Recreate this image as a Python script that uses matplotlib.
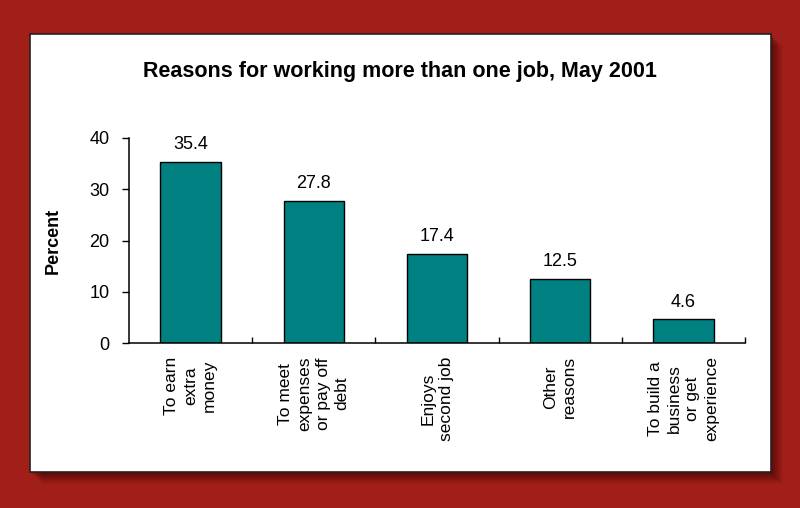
import matplotlib.pyplot as plt
from matplotlib.patches import Rectangle
from matplotlib.transforms import blended_transform_factory

# data
categories = ['To earn\nextra\nmoney',
              'To meet\nexpenses\nor pay off\ndebt',
              'Enjoys\nsecond job',
              'Other\nreasons',
              'To build a\nbusiness\nor get\nexperience']
values = [35.4, 27.8, 17.4, 12.5, 4.6]
yticks = [0, 10, 20, 30, 40]

plt.rcParams['font.family'] = ['Liberation Sans', 'DejaVu Sans']

fig = plt.figure(figsize=(8, 5.08), dpi=100)
fig.patch.set_facecolor('#a21f19')

# soft shadow behind the white panel
W, H = 800, 508
px, py, pw, ph = 30, 34, 741, 438
for i, a in enumerate([0.08, 0.10, 0.12, 0.14, 0.16, 0.18]):
    off = 12 - i * 2
    fig.patches.append(Rectangle(((px + off) / W, (H - py - ph - off) / H),
                                 pw / W, ph / H, transform=fig.transFigure,
                                 facecolor='#300000', edgecolor='none',
                                 alpha=a, zorder=-5))
fig.patches.append(Rectangle((px / W, (H - py - ph) / H), pw / W, ph / H,
                             transform=fig.transFigure, facecolor='white',
                             edgecolor='#222222', linewidth=1.2, zorder=-2))

ax = fig.add_axes([129 / W, (H - 343) / H, (745 - 129) / W, (343 - 138) / H])
ax.set_facecolor('none')

x = list(range(len(values)))
ax.bar(x, values, width=0.49, color='#008080', edgecolor='black', linewidth=1.0)

for xi, v in zip(x, values):
    ax.text(xi, v + 2.5, f'{v:.1f}', ha='center', va='baseline', fontsize=13)

ax.set_xlim(-0.5, len(values) - 0.5)
ax.set_ylim(0, 40)
ax.set_yticks(yticks)
ax.tick_params(axis='y', direction='out', length=5, width=1, labelsize=13, pad=9)
ax.set_xticks([i + 0.5 for i in x])
ax.set_xticklabels([])
ax.tick_params(axis='x', direction='in', length=4, width=1)

for s in ['top', 'right']:
    ax.spines[s].set_visible(False)
for s in ['left', 'bottom']:
    ax.spines[s].set_linewidth(1.1)

tr = blended_transform_factory(ax.transData, ax.transAxes)
for xi, lab in zip(x, categories):
    ax.text(xi, -0.065, lab, transform=tr, rotation=90, ha='center', va='top',
            multialignment='center', fontsize=12.5, linespacing=1.3)

ax.set_ylabel('Percent', fontsize=13, fontweight='bold', labelpad=20)

fig.text(0.5, (H - 72) / H, 'Reasons for working more than one job, May 2001',
         ha='center', va='center', fontsize=15.5, fontweight='bold')

fig.savefig('out.png', dpi=100, facecolor=fig.get_facecolor())
